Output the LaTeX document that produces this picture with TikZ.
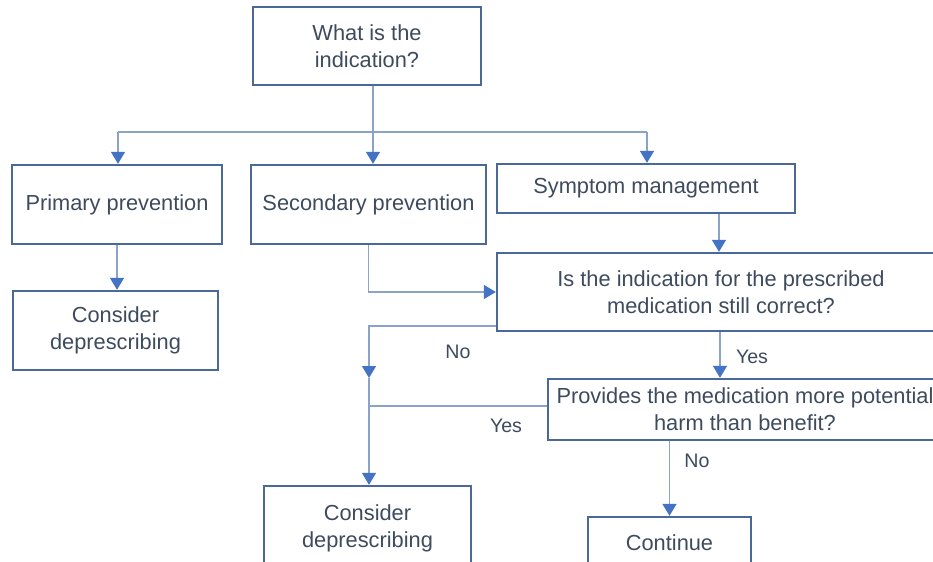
\documentclass[tikz,border=0pt]{standalone}
\usepackage{fontspec}
\setmainfont{Liberation Sans}
\usetikzlibrary{arrows.meta}
\definecolor{txt}{HTML}{3E4B5E}
\definecolor{bordc}{HTML}{4A6898}
\definecolor{linec}{HTML}{8BA3C6}
\definecolor{arrc}{HTML}{4472C4}
\begin{document}
\begin{tikzpicture}[x=0.5pt,y=-0.5pt,
  box/.style={draw=bordc,line width=1.2pt,text=txt,fill=white,
    font=\fontsize{10.9pt}{13.5pt}\selectfont,align=center,inner sep=0pt},
  lbl/.style={text=txt,font=\fontsize{9.8pt}{12pt}\selectfont,inner sep=0pt},
  ln/.style={draw=linec,line width=0.75pt},
  arr/.style={-{Triangle[width=7pt,length=6pt,color=arrc]}}]
\useasboundingbox (0,0) rectangle (933,562);
\clip (0,0) rectangle (933,562);
\fill[white] (0,0) rectangle (933,562);
% boxes
\node[box,minimum width=114pt,minimum height=39pt] (top) at (367,46) {What is the\\indication?};
\node[box,minimum width=105pt,minimum height=39.5pt] (prim) at (117,204.5) {Primary prevention};
\node[box,minimum width=117.5pt,minimum height=39.5pt] (sec) at (368.5,204.5) {Secondary prevention};
\node[box,minimum width=149pt,minimum height=24.5pt] (sym) at (646,188.5) {Symptom management};
\node[box,minimum width=102.5pt,minimum height=39.5pt] (cons1) at (115.5,330.5) {Consider\\deprescribing};
\node[box,minimum width=224pt,minimum height=39pt] (is) at (721,292) {Is the indication for the prescribed\\medication still correct?};
\node[box,minimum width=197pt,minimum height=30.5pt] (prov) at (745,409.5) {Provides the medication more potential\\harm than benefit?};
\node[box,minimum width=103.5pt,minimum height=42.5pt] (cons2) at (367.5,528.5) {Consider\\deprescribing};
\node[box,minimum width=81.5pt,minimum height=26pt] (cont) at (669.5,543) {Continue};
% coordinates
\coordinate (j) at (373,132);
\coordinate (hl) at (118,132);
\coordinate (hr) at (647,132);
\coordinate (sy) at (719,0);
\coordinate (nj) at (369,378);
\coordinate (yj) at (369,406);
\coordinate (ix) at (720,0);
% connectors
\draw[ln] (hl) -- (hr);
\draw[ln,arr] (j |- top.south) -- (j |- sec.north);
\draw[ln,arr] (hl) -- (hl |- prim.north);
\draw[ln,arr] (hr) -- (hr |- sym.north);
\draw[ln,arr] (prim.south) -- (prim.south |- cons1.north);
\draw[ln,arr] (sec.south) |- (is.west);
\draw[ln,arr] (sym.south -| sy) -- (is.north -| sy);
\draw[ln,arr] ([yshift=3pt]is.south west) -| (nj);
\draw[ln,arr] (nj) -- (nj |- cons2.north);
\draw[ln] (prov.west |- yj) -- (yj);
\draw[ln,arr] (is.south -| ix) -- (prov.north -| ix);
\draw[ln,arr] (prov.south -| cont.north) -- (cont.north);
% labels
\node[lbl] (l1) at (458,352) {No};
\node[lbl] (l2) at (752,357) {Yes};
\node[lbl] (l3) at (506,426) {Yes};
\node[lbl] (l4) at (697,461) {No};
\end{tikzpicture}
\end{document}
